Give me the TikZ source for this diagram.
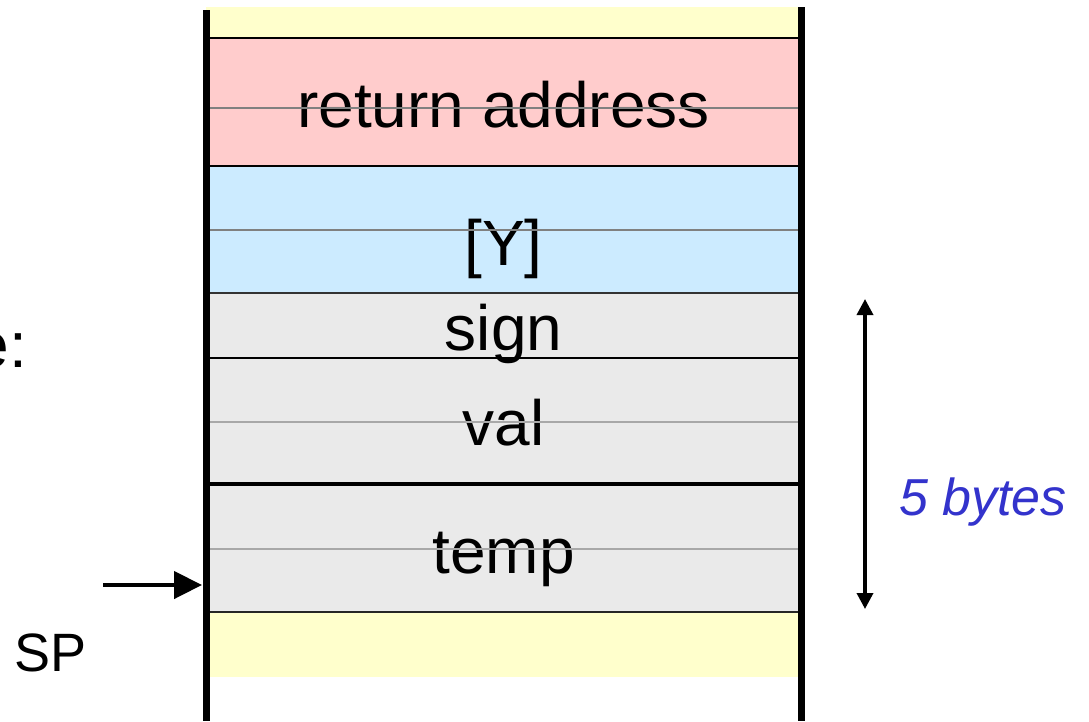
\documentclass[tikz,border=0pt]{standalone}
\usepackage{fontspec}
\setmainfont{Liberation Sans}
\usetikzlibrary{arrows.meta}
\definecolor{cyel}{HTML}{FFFFCC}
\definecolor{cpink}{HTML}{FFCCCC}
\definecolor{cblue}{HTML}{CCEBFF}
\definecolor{cgrey}{HTML}{EAEAEA}
\definecolor{cbytes}{HTML}{3333CC}
\definecolor{cmid}{HTML}{808080}
\definecolor{cmidl}{HTML}{A8A8A8}
\begin{document}
\begin{tikzpicture}[x=1pt,y=-1pt,
  cell/.style={draw=none,inner sep=0,outer sep=0,minimum width=595pt},
  lbl/.style={font=\fontsize{64}{70}\selectfont,anchor=base,inner sep=0},
  side/.style={font=\fontsize{54}{60}\selectfont,inner sep=0},
  sepline/.style={line width=2.5pt,black},
  midline/.style={line width=2pt},
  wall/.style={line width=7pt,black}]
\useasboundingbox (0,0) rectangle (1089,721);
% cells
\node[cell,fill=cyel,minimum height=31pt]  (topc)  at (503.5,22.5) {};
\node[cell,fill=cpink,minimum height=128pt] (ret)  at (503.5,102) {};
\node[cell,fill=cblue,minimum height=127pt] (ycell) at (503.5,229.5) {};
\node[cell,fill=cgrey,minimum height=65pt]  (sign) at (503.5,325.5) {};
\node[cell,fill=cgrey,minimum height=126pt] (val)  at (503.5,421) {};
\node[cell,fill=cgrey,minimum height=128pt] (temp) at (503.5,548) {};
\node[cell,fill=cyel,minimum height=65pt]  (botc)  at (503.5,644.5) {};
% labels
\node[lbl] (tret) at (503.5,127) {return address};
\node[lbl] (ty)   at (503.5,265) {[Y]};
\node[lbl] (tsign) at (503.5,350) {sign};
\node[lbl] (tval) at (503.5,445) {val};
\node[lbl] (ttemp) at (503.5,573) {temp};
% middle grey lines
\draw[midline,cmid]  (ret.west |- 0,108) -- (ret.east |- 0,108);
\draw[midline,cmid]  (ycell.west |- 0,230) -- (ycell.east |- 0,230);
\draw[midline,cmidl] (val.west |- 0,422) -- ([xshift=4pt]val.east |- 0,422);
\draw[midline,cmidl] (temp.west |- 0,549) -- (temp.east |- 0,549);
% separators
\draw[sepline] (ret.north west) -- (ret.north east);
\draw[sepline] (ycell.north west) -- (ycell.north east);
\draw[sepline,black!80] (sign.north west) -- (sign.north east);
\draw[sepline] (val.north west) -- (val.north east);
\draw[sepline,line width=3.5pt] (temp.north west) -- (temp.north east);
\draw[sepline,black!85] (botc.north west) -- (botc.north east);
% walls
\coordinate (lwt) at (206,10);
\coordinate (lwb) at (206,721);
\coordinate (rwt) at (801,7);
\coordinate (rwb) at (801,721);
\draw[wall] (lwt) -- (lwb);
\draw[wall] (rwt) -- (rwb);
% SP pointer
\coordinate (sptail) at (103,585);
\coordinate (sphead) at (202,585);
\draw[line width=4.5pt,-{Triangle[length=28pt,width=27pt]}] (sptail) -- (sphead);
\node[side,anchor=base west] (sp) at (14,671) {SP};
% partial title
\node[lbl,anchor=base east] (title) at (27,367) {e:};
% size arrow
\coordinate (bt) at (865,299);
\coordinate (bb) at (865,609);
\draw[line width=3.5pt,{Triangle[length=16pt,width=16pt]}-{Triangle[length=16pt,width=16pt]}] (bt) -- (bb);
\node[font=\fontsize{52}{58}\selectfont\itshape,text=cbytes,anchor=base west,inner sep=0] (bytes) at (899,515) {5 bytes};
\end{tikzpicture}
\end{document}
